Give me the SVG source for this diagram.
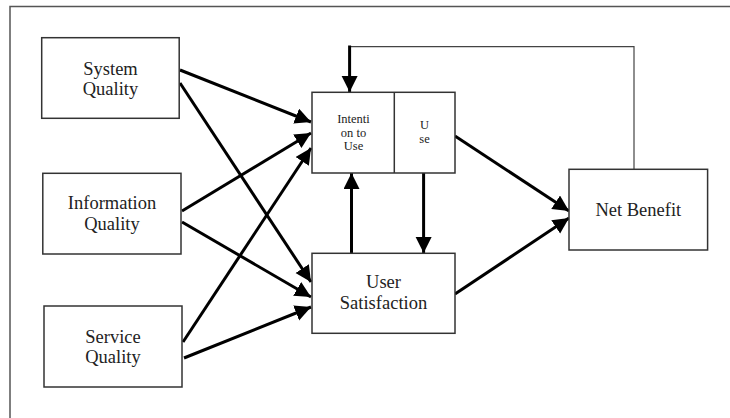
<svg xmlns="http://www.w3.org/2000/svg" width="730" height="418" viewBox="0 0 730 418">
<style>
.box{fill:#fff;stroke:#333;stroke-width:1.5}
.t{font-size:18.5px;fill:#222;text-anchor:middle}
.s{font-size:12.5px;fill:#222;text-anchor:middle}
.a{stroke:#000;stroke-width:3;fill:none;marker-end:url(#ah)}
.thin{stroke:#444;stroke-width:1.2;fill:none}
</style>
<defs>
<marker id="ah" markerUnits="userSpaceOnUse" markerWidth="17" markerHeight="17" refX="16" refY="8" orient="auto" viewBox="0 0 17 17">
<path d="M0,0 L16,8 L0,16 z" fill="#000"/>
</marker>
</defs>
<rect width="730" height="418" fill="#fff"/>
<path d="M10,430 V6.5 H740" fill="none" stroke="#555" stroke-width="1.5"/>
<g id="connectors">
<line class="a" x1="180" y1="70" x2="311" y2="122"/>
<line class="a" x1="180" y1="83" x2="311" y2="282"/>
<line class="a" x1="182" y1="211" x2="311" y2="133"/>
<line class="a" x1="182" y1="222" x2="311" y2="297"/>
<line class="a" x1="183" y1="342" x2="311" y2="148"/>
<line class="a" x1="184" y1="358" x2="311" y2="307"/>
<line class="a" x1="455" y1="136" x2="569" y2="211"/>
<line class="a" x1="455" y1="294" x2="569" y2="218"/>
<line class="a" x1="351.5" y1="253" x2="351.5" y2="173"/>
<line class="a" x1="423.6" y1="173" x2="423.6" y2="253"/>
<path class="thin" d="M634,169 V46.7 H349.6"/>
<line class="a" x1="349.6" y1="45.5" x2="349.6" y2="92"/>
</g>
<g font-family="Liberation Serif, serif">
<g id="system-quality">
<rect class="box" x="41.7" y="37.7" width="137.5" height="80.6"/>
<text class="t" x="110.5" y="75">System</text>
<text class="t" x="110.5" y="95">Quality</text>
</g>
<g id="information-quality">
<rect class="box" x="42.8" y="173.3" width="138.2" height="80.7"/>
<text class="t" x="112" y="209.3">Information</text>
<text class="t" x="112" y="230">Quality</text>
</g>
<g id="service-quality">
<rect class="box" x="44" y="306" width="138" height="81"/>
<text class="t" x="113" y="342.7">Service</text>
<text class="t" x="113" y="362.7">Quality</text>
</g>
<g id="intention-use">
<rect class="box" x="312" y="92.3" width="143" height="80.7"/>
<line x1="394.3" y1="92.3" x2="394.3" y2="173" stroke="#333" stroke-width="1.5"/>
<text class="s" x="353.5" y="123.3">Intenti</text>
<text class="s" x="353.5" y="136.5">on to</text>
<text class="s" x="353.5" y="150">Use</text>
<text class="s" x="424.5" y="129.3">U</text>
<text class="s" x="424.5" y="143.3">se</text>
</g>
<g id="user-satisfaction">
<rect class="box" x="312" y="253.3" width="143" height="80"/>
<text class="t" x="383.5" y="288.3">User</text>
<text class="t" x="383.5" y="309.3">Satisfaction</text>
</g>
<g id="net-benefit">
<rect class="box" x="569" y="169.3" width="138.6" height="80.7"/>
<text class="t" x="638.3" y="215.7">Net Benefit</text>
</g>
</g>
</svg>
